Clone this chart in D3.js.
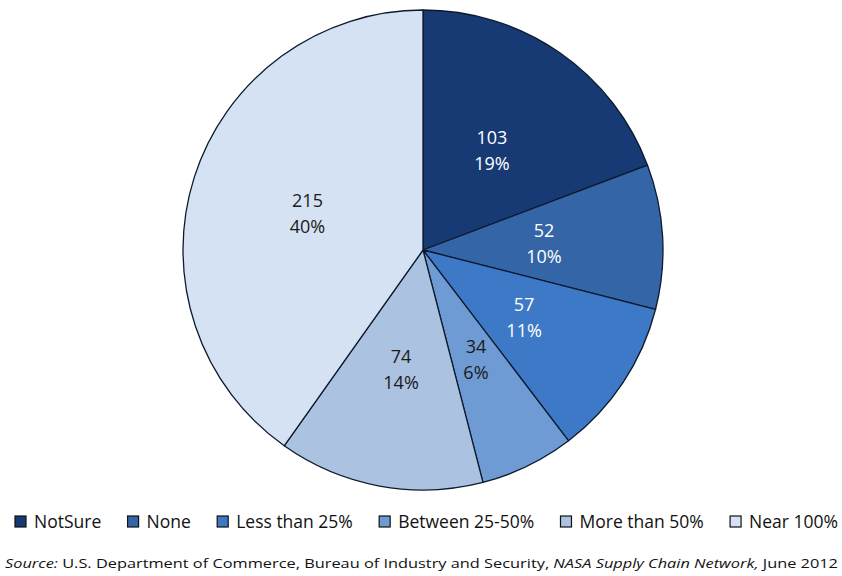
<!DOCTYPE html>
<html>
<head>
<meta charset="utf-8">
<script src="https://cdn.jsdelivr.net/npm/d3@7"></script>
<style>
  html, body { margin: 0; padding: 0; background: #fff; }
  svg { display: block; }
</style>
</head>
<body>
<svg id="chart" width="842" height="576"></svg>
<script>
const categories = ["Not Sure", "None", "Less than 25%", "Between 25-50%", "More than 50%", "Near 100%"];
const legendLabels = ["NotSure", "None", "Less than 25%", "Between 25-50%", "More than 50%", "Near 100%"];
const values = [103, 52, 57, 34, 74, 215];
const percentLabels = ["19%", "10%", "11%", "6%", "14%", "40%"];
const colors = ["#173A74", "#3465A7", "#3D79C6", "#6F9BD4", "#ACC2E1", "#D5E2F3"];
const labelColors = ["#ffffff", "#ffffff", "#ffffff", "#1a1a1a", "#1a1a1a", "#1a1a1a"];

const svg = d3.select("#chart");
const cx = 423, cy = 250, r = 240;
const font = "Open Sans, Lato, sans-serif";

const data = categories.map((c, i) => ({ cat: c, value: values[i], pct: percentLabels[i], color: colors[i], lc: labelColors[i] }));

const pie = d3.pie().value(d => d.value).sort(null);
const arc = d3.arc().innerRadius(0).outerRadius(r);
const labelArc = d3.arc().innerRadius(r * 0.505).outerRadius(r * 0.505);

const g = svg.append("g").attr("transform", `translate(${cx},${cy})`);
const arcs = pie(data);

g.selectAll("path.slice").data(arcs).join("path")
  .attr("class", "slice")
  .attr("d", arc)
  .attr("fill", d => d.data.color)
  .attr("stroke", "#0d1a2e")
  .attr("stroke-width", 1.3)
  .attr("stroke-linejoin", "round");

const lbl = g.selectAll("text.lbl").data(arcs).join("text")
  .attr("class", "lbl")
  .attr("transform", d => `translate(${labelArc.centroid(d)})`)
  .attr("text-anchor", "middle")
  .attr("font-family", font)
  .attr("font-size", 18)
  .attr("fill", d => d.data.lc);
lbl.append("tspan").attr("x", 0).attr("y", -6).text(d => d.data.value);
lbl.append("tspan").attr("x", 0).attr("y", 20).text(d => d.data.pct);

// Legend
const legend = svg.append("g").attr("transform", "translate(0,528)");
const items = legend.selectAll("g.item").data(data).join("g").attr("class", "item");
items.append("rect")
  .attr("x", 0).attr("y", -12).attr("width", 11).attr("height", 11)
  .attr("fill", d => d.color)
  .attr("stroke", "#111").attr("stroke-width", 1.2);
items.append("text")
  .attr("x", 19).attr("y", 0)
  .attr("font-family", font)
  .attr("font-size", 17.5)
  .attr("fill", "#111")
  .text((d, i) => legendLabels[i]);
const startX = 15, endX = 838;
const widths = [];
items.each(function () { widths.push(d3.select(this).select("text").node().getComputedTextLength()); });
const totalW = d3.sum(widths) + 19 * widths.length;
const gap = (endX - startX - totalW) / (widths.length - 1);
let xpos = startX;
items.each(function (d, i) {
  d3.select(this).attr("transform", `translate(${xpos},0)`);
  xpos += 19 + widths[i] + gap;
});

// Source
const src = svg.append("text")
  .attr("x", 5).attr("y", 568)
  .attr("font-family", font)
  .attr("font-size", 13)
  .attr("fill", "#111")
  .attr("textLength", 833)
  .attr("lengthAdjust", "spacingAndGlyphs");
src.append("tspan").attr("font-style", "italic").text("Source:");
src.append("tspan").text(" U.S. Department  of Commerce,  Bureau  of Industry and Security,  ");
src.append("tspan").attr("font-style", "italic").text("NASA Supply Chain Network,");
src.append("tspan").text("  June 2012");
</script>
</body>
</html>
